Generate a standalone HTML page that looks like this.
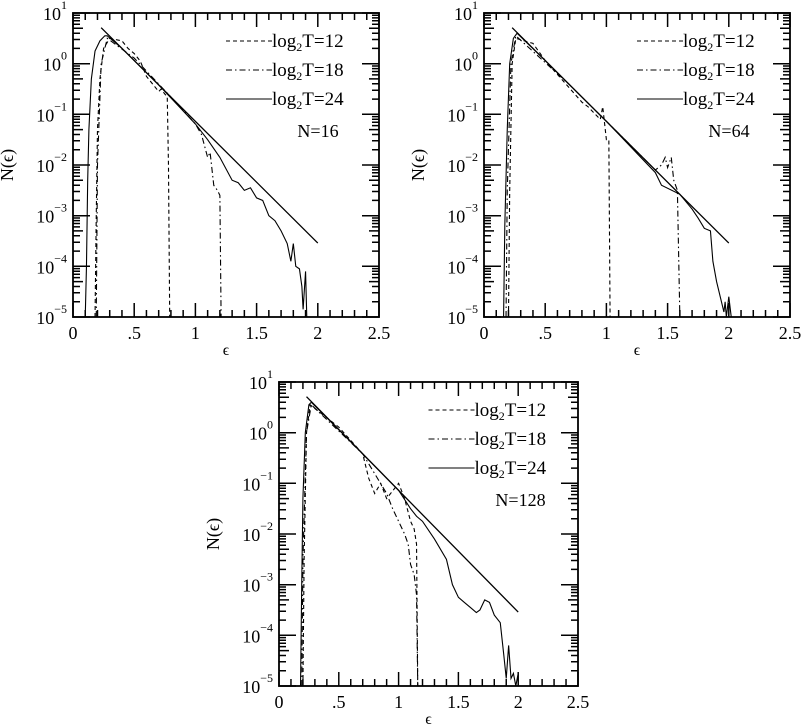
<!DOCTYPE html>
<html><head><meta charset="utf-8"><style>
body{margin:0;background:#fff;width:802px;height:727px;overflow:hidden}
svg{display:block}
text{font-family:"Liberation Serif",serif;fill:#000}
.c{fill:none;stroke:#000;stroke-width:1.1;vector-effect:non-scaling-stroke}
.d{stroke-dasharray:4,3}
.dd{stroke-dasharray:6,3,1.5,3}
.s{stroke-width:1.3}
.t{fill:none;stroke:#000;stroke-width:1.5}
</style></head><body>
<svg width="802" height="727" xmlns="http://www.w3.org/2000/svg">

<!-- Panel 1 -->
<rect x="73" y="13" width="306" height="304" fill="none" stroke="#000" stroke-width="1.6"/>
<g transform="translate(73,317)"><polyline class="t" points="0,0 17,0 0,0 0,-15.3 7,-15.3 0,-15.3 0,-24.2 7,-24.2 0,-24.2 0,-30.5 7,-30.5 0,-30.5 0,-35.4 10,-35.4 0,-35.4 0,-39.4 7,-39.4 0,-39.4 0,-42.8 7,-42.8 0,-42.8 0,-45.8 7,-45.8 0,-45.8 0,-48.4 7,-48.4 0,-48.4 0,-50.7 17,-50.7 0,-50.7 0,-65.9 7,-65.9 0,-65.9 0,-74.8 7,-74.8 0,-74.8 0,-81.2 7,-81.2 0,-81.2 0,-86.1 10,-86.1 0,-86.1 0,-90.1 7,-90.1 0,-90.1 0,-93.5 7,-93.5 0,-93.5 0,-96.4 7,-96.4 0,-96.4 0,-99 7,-99 0,-99 0,-101.3 17,-101.3 0,-101.3 0,-116.6 7,-116.6 0,-116.6 0,-125.5 7,-125.5 0,-125.5 0,-131.8 7,-131.8 0,-131.8 0,-136.7 10,-136.7 0,-136.7 0,-140.8 7,-140.8 0,-140.8 0,-144.2 7,-144.2 0,-144.2 0,-147.1 7,-147.1 0,-147.1 0,-149.7 7,-149.7 0,-149.7 0,-152 17,-152 0,-152 0,-167.3 7,-167.3 0,-167.3 0,-176.2 7,-176.2 0,-176.2 0,-182.5 7,-182.5 0,-182.5 0,-187.4 10,-187.4 0,-187.4 0,-191.4 7,-191.4 0,-191.4 0,-194.8 7,-194.8 0,-194.8 0,-197.8 7,-197.8 0,-197.8 0,-200.4 7,-200.4 0,-200.4 0,-202.7 17,-202.7 0,-202.7 0,-217.9 7,-217.9 0,-217.9 0,-226.8 7,-226.8 0,-226.8 0,-233.2 7,-233.2 0,-233.2 0,-238.1 10,-238.1 0,-238.1 0,-242.1 7,-242.1 0,-242.1 0,-245.5 7,-245.5 0,-245.5 0,-248.4 7,-248.4 0,-248.4 0,-251 7,-251 0,-251 0,-253.3 17,-253.3 0,-253.3 0,-268.6 7,-268.6 0,-268.6 0,-277.5 7,-277.5 0,-277.5 0,-283.8 7,-283.8 0,-283.8 0,-288.7 10,-288.7 0,-288.7 0,-292.8 7,-292.8 0,-292.8 0,-296.2 7,-296.2 0,-296.2 0,-299.1 7,-299.1 0,-299.1 0,-301.7 7,-301.7 0,-301.7 0,-304 17,-304"/></g>
<g transform="translate(379,317) scale(-1,1)"><polyline class="t" points="0,0 17,0 0,0 0,-15.3 7,-15.3 0,-15.3 0,-24.2 7,-24.2 0,-24.2 0,-30.5 7,-30.5 0,-30.5 0,-35.4 10,-35.4 0,-35.4 0,-39.4 7,-39.4 0,-39.4 0,-42.8 7,-42.8 0,-42.8 0,-45.8 7,-45.8 0,-45.8 0,-48.4 7,-48.4 0,-48.4 0,-50.7 17,-50.7 0,-50.7 0,-65.9 7,-65.9 0,-65.9 0,-74.8 7,-74.8 0,-74.8 0,-81.2 7,-81.2 0,-81.2 0,-86.1 10,-86.1 0,-86.1 0,-90.1 7,-90.1 0,-90.1 0,-93.5 7,-93.5 0,-93.5 0,-96.4 7,-96.4 0,-96.4 0,-99 7,-99 0,-99 0,-101.3 17,-101.3 0,-101.3 0,-116.6 7,-116.6 0,-116.6 0,-125.5 7,-125.5 0,-125.5 0,-131.8 7,-131.8 0,-131.8 0,-136.7 10,-136.7 0,-136.7 0,-140.8 7,-140.8 0,-140.8 0,-144.2 7,-144.2 0,-144.2 0,-147.1 7,-147.1 0,-147.1 0,-149.7 7,-149.7 0,-149.7 0,-152 17,-152 0,-152 0,-167.3 7,-167.3 0,-167.3 0,-176.2 7,-176.2 0,-176.2 0,-182.5 7,-182.5 0,-182.5 0,-187.4 10,-187.4 0,-187.4 0,-191.4 7,-191.4 0,-191.4 0,-194.8 7,-194.8 0,-194.8 0,-197.8 7,-197.8 0,-197.8 0,-200.4 7,-200.4 0,-200.4 0,-202.7 17,-202.7 0,-202.7 0,-217.9 7,-217.9 0,-217.9 0,-226.8 7,-226.8 0,-226.8 0,-233.2 7,-233.2 0,-233.2 0,-238.1 10,-238.1 0,-238.1 0,-242.1 7,-242.1 0,-242.1 0,-245.5 7,-245.5 0,-245.5 0,-248.4 7,-248.4 0,-248.4 0,-251 7,-251 0,-251 0,-253.3 17,-253.3 0,-253.3 0,-268.6 7,-268.6 0,-268.6 0,-277.5 7,-277.5 0,-277.5 0,-283.8 7,-283.8 0,-283.8 0,-288.7 10,-288.7 0,-288.7 0,-292.8 7,-292.8 0,-292.8 0,-296.2 7,-296.2 0,-296.2 0,-299.1 7,-299.1 0,-299.1 0,-301.7 7,-301.7 0,-301.7 0,-304 17,-304"/></g>
<g transform="translate(73,317)"><polyline class="t" points="0,0 0,-14 0,0 12.24,0 12.24,-7 12.24,0 24.48,0 24.48,-7 24.48,0 36.72,0 36.72,-7 36.72,0 48.96,0 48.96,-7 48.96,0 61.2,0 61.2,-14 61.2,0 73.44,0 73.44,-7 73.44,0 85.68,0 85.68,-7 85.68,0 97.92,0 97.92,-7 97.92,0 110.16,0 110.16,-7 110.16,0 122.4,0 122.4,-14 122.4,0 134.64,0 134.64,-7 134.64,0 146.88,0 146.88,-7 146.88,0 159.12,0 159.12,-7 159.12,0 171.36,0 171.36,-7 171.36,0 183.6,0 183.6,-14 183.6,0 195.84,0 195.84,-7 195.84,0 208.08,0 208.08,-7 208.08,0 220.32,0 220.32,-7 220.32,0 232.56,0 232.56,-7 232.56,0 244.8,0 244.8,-14 244.8,0 257.04,0 257.04,-7 257.04,0 269.28,0 269.28,-7 269.28,0 281.52,0 281.52,-7 281.52,0 293.76,0 293.76,-7 293.76,0 306,0 306,-14"/></g>
<g transform="translate(73,13) scale(1,-1)"><polyline class="t" points="0,0 0,-14 0,0 12.24,0 12.24,-7 12.24,0 24.48,0 24.48,-7 24.48,0 36.72,0 36.72,-7 36.72,0 48.96,0 48.96,-7 48.96,0 61.2,0 61.2,-14 61.2,0 73.44,0 73.44,-7 73.44,0 85.68,0 85.68,-7 85.68,0 97.92,0 97.92,-7 97.92,0 110.16,0 110.16,-7 110.16,0 122.4,0 122.4,-14 122.4,0 134.64,0 134.64,-7 134.64,0 146.88,0 146.88,-7 146.88,0 159.12,0 159.12,-7 159.12,0 171.36,0 171.36,-7 171.36,0 183.6,0 183.6,-14 183.6,0 195.84,0 195.84,-7 195.84,0 208.08,0 208.08,-7 208.08,0 220.32,0 220.32,-7 220.32,0 232.56,0 232.56,-7 232.56,0 244.8,0 244.8,-14 244.8,0 257.04,0 257.04,-7 257.04,0 269.28,0 269.28,-7 269.28,0 281.52,0 281.52,-7 281.52,0 293.76,0 293.76,-7 293.76,0 306,0 306,-14"/></g>
<g font-size="18" text-anchor="end">
<text x="67" y="20">10<tspan font-size="12" dy="-11">1</tspan></text>
<text x="67" y="70.7">10<tspan font-size="12" dy="-11">0</tspan></text>
<text x="67" y="121.3">10<tspan font-size="12" dy="-11">−1</tspan></text>
<text x="67" y="172">10<tspan font-size="12" dy="-11">−2</tspan></text>
<text x="67" y="222.7">10<tspan font-size="12" dy="-11">−3</tspan></text>
<text x="67" y="273.3">10<tspan font-size="12" dy="-11">−4</tspan></text>
<text x="67" y="324">10<tspan font-size="12" dy="-11">−5</tspan></text>
</g>
<g font-size="18" text-anchor="middle">
<text x="73" y="339">0</text><text x="134.2" y="339">.5</text><text x="195.4" y="339">1</text><text x="256.6" y="339">1.5</text><text x="317.8" y="339">2</text><text x="379" y="339">2.5</text>
<text x="226" y="355" font-size="16">ϵ</text>
<text transform="translate(13,165) rotate(-90)">N(ϵ)</text>
</g>
<line x1="226" y1="41" x2="272" y2="41" class="c d"/>
<line x1="226" y1="70" x2="272" y2="70" class="c dd"/>
<line x1="226" y1="99" x2="272" y2="99" class="c"/>
<g font-size="19">
<text x="272" y="47">log<tspan font-size="12" dy="4">2</tspan><tspan dy="-4">T=12</tspan></text>
<text x="272" y="76">log<tspan font-size="12" dy="4">2</tspan><tspan dy="-4">T=18</tspan></text>
<text x="272" y="105">log<tspan font-size="12" dy="4">2</tspan><tspan dy="-4">T=24</tspan></text>
</g>
<text x="318" y="137" font-size="18" text-anchor="middle">N=16</text>
<g transform="translate(73,63.667) scale(122.4,-50.667)">
<polyline class="c s" points="0.23,0.71 2.0,-3.54"/>
<polyline class="c" points="0.1,-5 0.11,-4 0.12,-2.3 0.13,-1.3 0.15,-0.3 0.18,0.25 0.22,0.45 0.26,0.55 0.28,0.55 0.4,0.302 0.7,-0.418 1.0,-1.19 1.1,-1.5 1.2,-1.85 1.3,-2.3 1.35,-2.35 1.4,-2.5 1.45,-2.45 1.5,-2.65 1.55,-2.7 1.6,-3.0 1.65,-3.1 1.7,-3.3 1.75,-3.55 1.78,-3.9 1.8,-3.55 1.82,-4.0 1.85,-4.05 1.87,-4.4 1.88,-4.85 1.9,-4.1 1.91,-5"/>
<polyline class="c d" points="0.18,-5 0.19,-3 0.2,-1.3 0.22,-0.3 0.25,0.3 0.3,0.5 0.4,0.45 0.45,0.3 0.5,0.2 0.55,0.05 0.6,-0.25 0.7,-0.55 0.72,-0.5 0.75,-0.6 0.77,-0.65 0.78,-2 0.79,-5"/>
<polyline class="c dd" points="0.19,-5 0.2,-2 0.23,0 0.28,0.5 0.5,0.11 0.8,-0.658 1.0,-1.19 1.05,-1.4 1.1,-1.85 1.12,-1.75 1.15,-2.4 1.18,-2.5 1.2,-2.6 1.21,-5"/>
</g>

<!-- Panel 2 -->
<rect x="484" y="13" width="306" height="304" fill="none" stroke="#000" stroke-width="1.6"/>
<g transform="translate(484,317)"><polyline class="t" points="0,0 17,0 0,0 0,-15.3 7,-15.3 0,-15.3 0,-24.2 7,-24.2 0,-24.2 0,-30.5 7,-30.5 0,-30.5 0,-35.4 10,-35.4 0,-35.4 0,-39.4 7,-39.4 0,-39.4 0,-42.8 7,-42.8 0,-42.8 0,-45.8 7,-45.8 0,-45.8 0,-48.4 7,-48.4 0,-48.4 0,-50.7 17,-50.7 0,-50.7 0,-65.9 7,-65.9 0,-65.9 0,-74.8 7,-74.8 0,-74.8 0,-81.2 7,-81.2 0,-81.2 0,-86.1 10,-86.1 0,-86.1 0,-90.1 7,-90.1 0,-90.1 0,-93.5 7,-93.5 0,-93.5 0,-96.4 7,-96.4 0,-96.4 0,-99 7,-99 0,-99 0,-101.3 17,-101.3 0,-101.3 0,-116.6 7,-116.6 0,-116.6 0,-125.5 7,-125.5 0,-125.5 0,-131.8 7,-131.8 0,-131.8 0,-136.7 10,-136.7 0,-136.7 0,-140.8 7,-140.8 0,-140.8 0,-144.2 7,-144.2 0,-144.2 0,-147.1 7,-147.1 0,-147.1 0,-149.7 7,-149.7 0,-149.7 0,-152 17,-152 0,-152 0,-167.3 7,-167.3 0,-167.3 0,-176.2 7,-176.2 0,-176.2 0,-182.5 7,-182.5 0,-182.5 0,-187.4 10,-187.4 0,-187.4 0,-191.4 7,-191.4 0,-191.4 0,-194.8 7,-194.8 0,-194.8 0,-197.8 7,-197.8 0,-197.8 0,-200.4 7,-200.4 0,-200.4 0,-202.7 17,-202.7 0,-202.7 0,-217.9 7,-217.9 0,-217.9 0,-226.8 7,-226.8 0,-226.8 0,-233.2 7,-233.2 0,-233.2 0,-238.1 10,-238.1 0,-238.1 0,-242.1 7,-242.1 0,-242.1 0,-245.5 7,-245.5 0,-245.5 0,-248.4 7,-248.4 0,-248.4 0,-251 7,-251 0,-251 0,-253.3 17,-253.3 0,-253.3 0,-268.6 7,-268.6 0,-268.6 0,-277.5 7,-277.5 0,-277.5 0,-283.8 7,-283.8 0,-283.8 0,-288.7 10,-288.7 0,-288.7 0,-292.8 7,-292.8 0,-292.8 0,-296.2 7,-296.2 0,-296.2 0,-299.1 7,-299.1 0,-299.1 0,-301.7 7,-301.7 0,-301.7 0,-304 17,-304"/></g>
<g transform="translate(790,317) scale(-1,1)"><polyline class="t" points="0,0 17,0 0,0 0,-15.3 7,-15.3 0,-15.3 0,-24.2 7,-24.2 0,-24.2 0,-30.5 7,-30.5 0,-30.5 0,-35.4 10,-35.4 0,-35.4 0,-39.4 7,-39.4 0,-39.4 0,-42.8 7,-42.8 0,-42.8 0,-45.8 7,-45.8 0,-45.8 0,-48.4 7,-48.4 0,-48.4 0,-50.7 17,-50.7 0,-50.7 0,-65.9 7,-65.9 0,-65.9 0,-74.8 7,-74.8 0,-74.8 0,-81.2 7,-81.2 0,-81.2 0,-86.1 10,-86.1 0,-86.1 0,-90.1 7,-90.1 0,-90.1 0,-93.5 7,-93.5 0,-93.5 0,-96.4 7,-96.4 0,-96.4 0,-99 7,-99 0,-99 0,-101.3 17,-101.3 0,-101.3 0,-116.6 7,-116.6 0,-116.6 0,-125.5 7,-125.5 0,-125.5 0,-131.8 7,-131.8 0,-131.8 0,-136.7 10,-136.7 0,-136.7 0,-140.8 7,-140.8 0,-140.8 0,-144.2 7,-144.2 0,-144.2 0,-147.1 7,-147.1 0,-147.1 0,-149.7 7,-149.7 0,-149.7 0,-152 17,-152 0,-152 0,-167.3 7,-167.3 0,-167.3 0,-176.2 7,-176.2 0,-176.2 0,-182.5 7,-182.5 0,-182.5 0,-187.4 10,-187.4 0,-187.4 0,-191.4 7,-191.4 0,-191.4 0,-194.8 7,-194.8 0,-194.8 0,-197.8 7,-197.8 0,-197.8 0,-200.4 7,-200.4 0,-200.4 0,-202.7 17,-202.7 0,-202.7 0,-217.9 7,-217.9 0,-217.9 0,-226.8 7,-226.8 0,-226.8 0,-233.2 7,-233.2 0,-233.2 0,-238.1 10,-238.1 0,-238.1 0,-242.1 7,-242.1 0,-242.1 0,-245.5 7,-245.5 0,-245.5 0,-248.4 7,-248.4 0,-248.4 0,-251 7,-251 0,-251 0,-253.3 17,-253.3 0,-253.3 0,-268.6 7,-268.6 0,-268.6 0,-277.5 7,-277.5 0,-277.5 0,-283.8 7,-283.8 0,-283.8 0,-288.7 10,-288.7 0,-288.7 0,-292.8 7,-292.8 0,-292.8 0,-296.2 7,-296.2 0,-296.2 0,-299.1 7,-299.1 0,-299.1 0,-301.7 7,-301.7 0,-301.7 0,-304 17,-304"/></g>
<g transform="translate(484,317)"><polyline class="t" points="0,0 0,-14 0,0 12.24,0 12.24,-7 12.24,0 24.48,0 24.48,-7 24.48,0 36.72,0 36.72,-7 36.72,0 48.96,0 48.96,-7 48.96,0 61.2,0 61.2,-14 61.2,0 73.44,0 73.44,-7 73.44,0 85.68,0 85.68,-7 85.68,0 97.92,0 97.92,-7 97.92,0 110.16,0 110.16,-7 110.16,0 122.4,0 122.4,-14 122.4,0 134.64,0 134.64,-7 134.64,0 146.88,0 146.88,-7 146.88,0 159.12,0 159.12,-7 159.12,0 171.36,0 171.36,-7 171.36,0 183.6,0 183.6,-14 183.6,0 195.84,0 195.84,-7 195.84,0 208.08,0 208.08,-7 208.08,0 220.32,0 220.32,-7 220.32,0 232.56,0 232.56,-7 232.56,0 244.8,0 244.8,-14 244.8,0 257.04,0 257.04,-7 257.04,0 269.28,0 269.28,-7 269.28,0 281.52,0 281.52,-7 281.52,0 293.76,0 293.76,-7 293.76,0 306,0 306,-14"/></g>
<g transform="translate(484,13) scale(1,-1)"><polyline class="t" points="0,0 0,-14 0,0 12.24,0 12.24,-7 12.24,0 24.48,0 24.48,-7 24.48,0 36.72,0 36.72,-7 36.72,0 48.96,0 48.96,-7 48.96,0 61.2,0 61.2,-14 61.2,0 73.44,0 73.44,-7 73.44,0 85.68,0 85.68,-7 85.68,0 97.92,0 97.92,-7 97.92,0 110.16,0 110.16,-7 110.16,0 122.4,0 122.4,-14 122.4,0 134.64,0 134.64,-7 134.64,0 146.88,0 146.88,-7 146.88,0 159.12,0 159.12,-7 159.12,0 171.36,0 171.36,-7 171.36,0 183.6,0 183.6,-14 183.6,0 195.84,0 195.84,-7 195.84,0 208.08,0 208.08,-7 208.08,0 220.32,0 220.32,-7 220.32,0 232.56,0 232.56,-7 232.56,0 244.8,0 244.8,-14 244.8,0 257.04,0 257.04,-7 257.04,0 269.28,0 269.28,-7 269.28,0 281.52,0 281.52,-7 281.52,0 293.76,0 293.76,-7 293.76,0 306,0 306,-14"/></g>
<g font-size="18" text-anchor="end">
<text x="478" y="20">10<tspan font-size="12" dy="-11">1</tspan></text>
<text x="478" y="70.7">10<tspan font-size="12" dy="-11">0</tspan></text>
<text x="478" y="121.3">10<tspan font-size="12" dy="-11">−1</tspan></text>
<text x="478" y="172">10<tspan font-size="12" dy="-11">−2</tspan></text>
<text x="478" y="222.7">10<tspan font-size="12" dy="-11">−3</tspan></text>
<text x="478" y="273.3">10<tspan font-size="12" dy="-11">−4</tspan></text>
<text x="478" y="324">10<tspan font-size="12" dy="-11">−5</tspan></text>
</g>
<g font-size="18" text-anchor="middle">
<text x="484" y="339">0</text><text x="545.2" y="339">.5</text><text x="606.4" y="339">1</text><text x="667.6" y="339">1.5</text><text x="728.8" y="339">2</text><text x="790" y="339">2.5</text>
<text x="637" y="355" font-size="16">ϵ</text>
<text transform="translate(424,165) rotate(-90)">N(ϵ)</text>
</g>
<line x1="637" y1="41" x2="683" y2="41" class="c d"/>
<line x1="637" y1="70" x2="683" y2="70" class="c dd"/>
<line x1="637" y1="99" x2="683" y2="99" class="c"/>
<g font-size="19">
<text x="683" y="47">log<tspan font-size="12" dy="4">2</tspan><tspan dy="-4">T=12</tspan></text>
<text x="683" y="76">log<tspan font-size="12" dy="4">2</tspan><tspan dy="-4">T=18</tspan></text>
<text x="683" y="105">log<tspan font-size="12" dy="4">2</tspan><tspan dy="-4">T=24</tspan></text>
</g>
<text x="729" y="137" font-size="18" text-anchor="middle">N=64</text>
<g transform="translate(484,63.667) scale(122.4,-50.667)">
<polyline class="c s" points="0.23,0.71 2.0,-3.54"/>
<polyline class="c" points="0.16,-5 0.17,-3.2 0.19,-1.3 0.21,0 0.24,0.5 0.27,0.6 0.5,0.062 1.0,-1.138 1.4,-2.15 1.45,-2.4 1.6,-2.578 1.7,-2.87 1.75,-3.05 1.8,-3.25 1.85,-3.3 1.87,-3.9 1.9,-4.3 1.93,-4.6 1.96,-4.9 1.97,-4.7 1.98,-5 2.0,-4.6 2.02,-5"/>
<polyline class="c d" points="0.2,-5 0.21,-2.5 0.23,0 0.26,0.5 0.4,0.4 0.5,0.062 0.8,-0.76 0.85,-0.85 0.95,-1.1 0.97,-0.85 1.0,-1.5 1.02,-1.5 1.03,-5"/>
<polyline class="c dd" points="0.18,-5 0.19,-2.5 0.22,0 0.26,0.55 0.7,-0.418 1.2,-1.618 1.4,-2.1 1.45,-2.0 1.48,-1.85 1.5,-2.05 1.53,-1.85 1.55,-2.3 1.58,-2.5 1.6,-5"/>
</g>

<!-- Panel 3 -->
<rect x="279" y="382" width="299" height="304" fill="none" stroke="#000" stroke-width="1.6"/>
<g transform="translate(279,686)"><polyline class="t" points="0,0 17,0 0,0 0,-15.3 7,-15.3 0,-15.3 0,-24.2 7,-24.2 0,-24.2 0,-30.5 7,-30.5 0,-30.5 0,-35.4 10,-35.4 0,-35.4 0,-39.4 7,-39.4 0,-39.4 0,-42.8 7,-42.8 0,-42.8 0,-45.8 7,-45.8 0,-45.8 0,-48.4 7,-48.4 0,-48.4 0,-50.7 17,-50.7 0,-50.7 0,-65.9 7,-65.9 0,-65.9 0,-74.8 7,-74.8 0,-74.8 0,-81.2 7,-81.2 0,-81.2 0,-86.1 10,-86.1 0,-86.1 0,-90.1 7,-90.1 0,-90.1 0,-93.5 7,-93.5 0,-93.5 0,-96.4 7,-96.4 0,-96.4 0,-99 7,-99 0,-99 0,-101.3 17,-101.3 0,-101.3 0,-116.6 7,-116.6 0,-116.6 0,-125.5 7,-125.5 0,-125.5 0,-131.8 7,-131.8 0,-131.8 0,-136.7 10,-136.7 0,-136.7 0,-140.8 7,-140.8 0,-140.8 0,-144.2 7,-144.2 0,-144.2 0,-147.1 7,-147.1 0,-147.1 0,-149.7 7,-149.7 0,-149.7 0,-152 17,-152 0,-152 0,-167.3 7,-167.3 0,-167.3 0,-176.2 7,-176.2 0,-176.2 0,-182.5 7,-182.5 0,-182.5 0,-187.4 10,-187.4 0,-187.4 0,-191.4 7,-191.4 0,-191.4 0,-194.8 7,-194.8 0,-194.8 0,-197.8 7,-197.8 0,-197.8 0,-200.4 7,-200.4 0,-200.4 0,-202.7 17,-202.7 0,-202.7 0,-217.9 7,-217.9 0,-217.9 0,-226.8 7,-226.8 0,-226.8 0,-233.2 7,-233.2 0,-233.2 0,-238.1 10,-238.1 0,-238.1 0,-242.1 7,-242.1 0,-242.1 0,-245.5 7,-245.5 0,-245.5 0,-248.4 7,-248.4 0,-248.4 0,-251 7,-251 0,-251 0,-253.3 17,-253.3 0,-253.3 0,-268.6 7,-268.6 0,-268.6 0,-277.5 7,-277.5 0,-277.5 0,-283.8 7,-283.8 0,-283.8 0,-288.7 10,-288.7 0,-288.7 0,-292.8 7,-292.8 0,-292.8 0,-296.2 7,-296.2 0,-296.2 0,-299.1 7,-299.1 0,-299.1 0,-301.7 7,-301.7 0,-301.7 0,-304 17,-304"/></g>
<g transform="translate(578,686) scale(-1,1)"><polyline class="t" points="0,0 17,0 0,0 0,-15.3 7,-15.3 0,-15.3 0,-24.2 7,-24.2 0,-24.2 0,-30.5 7,-30.5 0,-30.5 0,-35.4 10,-35.4 0,-35.4 0,-39.4 7,-39.4 0,-39.4 0,-42.8 7,-42.8 0,-42.8 0,-45.8 7,-45.8 0,-45.8 0,-48.4 7,-48.4 0,-48.4 0,-50.7 17,-50.7 0,-50.7 0,-65.9 7,-65.9 0,-65.9 0,-74.8 7,-74.8 0,-74.8 0,-81.2 7,-81.2 0,-81.2 0,-86.1 10,-86.1 0,-86.1 0,-90.1 7,-90.1 0,-90.1 0,-93.5 7,-93.5 0,-93.5 0,-96.4 7,-96.4 0,-96.4 0,-99 7,-99 0,-99 0,-101.3 17,-101.3 0,-101.3 0,-116.6 7,-116.6 0,-116.6 0,-125.5 7,-125.5 0,-125.5 0,-131.8 7,-131.8 0,-131.8 0,-136.7 10,-136.7 0,-136.7 0,-140.8 7,-140.8 0,-140.8 0,-144.2 7,-144.2 0,-144.2 0,-147.1 7,-147.1 0,-147.1 0,-149.7 7,-149.7 0,-149.7 0,-152 17,-152 0,-152 0,-167.3 7,-167.3 0,-167.3 0,-176.2 7,-176.2 0,-176.2 0,-182.5 7,-182.5 0,-182.5 0,-187.4 10,-187.4 0,-187.4 0,-191.4 7,-191.4 0,-191.4 0,-194.8 7,-194.8 0,-194.8 0,-197.8 7,-197.8 0,-197.8 0,-200.4 7,-200.4 0,-200.4 0,-202.7 17,-202.7 0,-202.7 0,-217.9 7,-217.9 0,-217.9 0,-226.8 7,-226.8 0,-226.8 0,-233.2 7,-233.2 0,-233.2 0,-238.1 10,-238.1 0,-238.1 0,-242.1 7,-242.1 0,-242.1 0,-245.5 7,-245.5 0,-245.5 0,-248.4 7,-248.4 0,-248.4 0,-251 7,-251 0,-251 0,-253.3 17,-253.3 0,-253.3 0,-268.6 7,-268.6 0,-268.6 0,-277.5 7,-277.5 0,-277.5 0,-283.8 7,-283.8 0,-283.8 0,-288.7 10,-288.7 0,-288.7 0,-292.8 7,-292.8 0,-292.8 0,-296.2 7,-296.2 0,-296.2 0,-299.1 7,-299.1 0,-299.1 0,-301.7 7,-301.7 0,-301.7 0,-304 17,-304"/></g>
<g transform="translate(279,686) scale(0.9771,1)"><polyline class="t" points="0,0 0,-14 0,0 12.24,0 12.24,-7 12.24,0 24.48,0 24.48,-7 24.48,0 36.72,0 36.72,-7 36.72,0 48.96,0 48.96,-7 48.96,0 61.2,0 61.2,-14 61.2,0 73.44,0 73.44,-7 73.44,0 85.68,0 85.68,-7 85.68,0 97.92,0 97.92,-7 97.92,0 110.16,0 110.16,-7 110.16,0 122.4,0 122.4,-14 122.4,0 134.64,0 134.64,-7 134.64,0 146.88,0 146.88,-7 146.88,0 159.12,0 159.12,-7 159.12,0 171.36,0 171.36,-7 171.36,0 183.6,0 183.6,-14 183.6,0 195.84,0 195.84,-7 195.84,0 208.08,0 208.08,-7 208.08,0 220.32,0 220.32,-7 220.32,0 232.56,0 232.56,-7 232.56,0 244.8,0 244.8,-14 244.8,0 257.04,0 257.04,-7 257.04,0 269.28,0 269.28,-7 269.28,0 281.52,0 281.52,-7 281.52,0 293.76,0 293.76,-7 293.76,0 306,0 306,-14"/></g>
<g transform="translate(279,382) scale(0.9771,-1)"><polyline class="t" points="0,0 0,-14 0,0 12.24,0 12.24,-7 12.24,0 24.48,0 24.48,-7 24.48,0 36.72,0 36.72,-7 36.72,0 48.96,0 48.96,-7 48.96,0 61.2,0 61.2,-14 61.2,0 73.44,0 73.44,-7 73.44,0 85.68,0 85.68,-7 85.68,0 97.92,0 97.92,-7 97.92,0 110.16,0 110.16,-7 110.16,0 122.4,0 122.4,-14 122.4,0 134.64,0 134.64,-7 134.64,0 146.88,0 146.88,-7 146.88,0 159.12,0 159.12,-7 159.12,0 171.36,0 171.36,-7 171.36,0 183.6,0 183.6,-14 183.6,0 195.84,0 195.84,-7 195.84,0 208.08,0 208.08,-7 208.08,0 220.32,0 220.32,-7 220.32,0 232.56,0 232.56,-7 232.56,0 244.8,0 244.8,-14 244.8,0 257.04,0 257.04,-7 257.04,0 269.28,0 269.28,-7 269.28,0 281.52,0 281.52,-7 281.52,0 293.76,0 293.76,-7 293.76,0 306,0 306,-14"/></g>
<g font-size="18" text-anchor="end">
<text x="273" y="389">10<tspan font-size="12" dy="-11">1</tspan></text>
<text x="273" y="439.7">10<tspan font-size="12" dy="-11">0</tspan></text>
<text x="273" y="490.3">10<tspan font-size="12" dy="-11">−1</tspan></text>
<text x="273" y="541">10<tspan font-size="12" dy="-11">−2</tspan></text>
<text x="273" y="591.7">10<tspan font-size="12" dy="-11">−3</tspan></text>
<text x="273" y="642.3">10<tspan font-size="12" dy="-11">−4</tspan></text>
<text x="273" y="693">10<tspan font-size="12" dy="-11">−5</tspan></text>
</g>
<g font-size="18" text-anchor="middle">
<text x="279" y="708">0</text><text x="338.8" y="708">.5</text><text x="398.6" y="708">1</text><text x="458.4" y="708">1.5</text><text x="518.2" y="708">2</text><text x="578" y="708">2.5</text>
<text x="428.5" y="724" font-size="16">ϵ</text>
<text transform="translate(219,534) rotate(-90)">N(ϵ)</text>
</g>
<line x1="428.5" y1="410" x2="474.5" y2="410" class="c d"/>
<line x1="428.5" y1="439" x2="474.5" y2="439" class="c dd"/>
<line x1="428.5" y1="468" x2="474.5" y2="468" class="c"/>
<g font-size="19">
<text x="474.5" y="416">log<tspan font-size="12" dy="4">2</tspan><tspan dy="-4">T=12</tspan></text>
<text x="474.5" y="445">log<tspan font-size="12" dy="4">2</tspan><tspan dy="-4">T=18</tspan></text>
<text x="474.5" y="474">log<tspan font-size="12" dy="4">2</tspan><tspan dy="-4">T=24</tspan></text>
</g>
<text x="520.5" y="506" font-size="18" text-anchor="middle">N=128</text>
<g transform="translate(279,432.667) scale(119.6,-50.667)">
<polyline class="c s" points="0.23,0.71 2.0,-3.54"/>
<polyline class="c" points="0.18,-5 0.19,-3 0.2,-1.3 0.22,0 0.25,0.55 0.27,0.6 0.6,-0.178 1.0,-1.138 1.1,-1.5 1.15,-1.65 1.2,-1.75 1.3,-2.1 1.4,-2.5 1.45,-3.0 1.5,-3.25 1.55,-3.35 1.6,-3.45 1.65,-3.55 1.68,-3.5 1.72,-3.3 1.76,-3.35 1.8,-3.6 1.85,-3.75 1.88,-4.4 1.9,-4.85 1.92,-4.2 1.94,-4.85 1.96,-4.75 1.98,-5 2.0,-4.75 2.0,-5"/>
<polyline class="c d" points="0.2,-5 0.21,-2.5 0.23,0 0.26,0.55 0.5,0.11 0.7,-0.418 0.75,-0.9 0.8,-1.2 0.85,-1.0 0.9,-1.3 0.95,-1.15 1.0,-1.0 1.05,-1.3 1.1,-1.75 1.13,-1.9 1.15,-2.2 1.16,-5"/>
<polyline class="c dd" points="0.19,-5 0.2,-2.5 0.23,0 0.27,0.55 0.7,-0.418 0.9,-1.2 0.95,-1.5 1.0,-1.75 1.05,-2.0 1.08,-2.2 1.1,-2.6 1.13,-2.8 1.15,-3.2 1.16,-5"/>
</g>
</svg>
</body></html>
